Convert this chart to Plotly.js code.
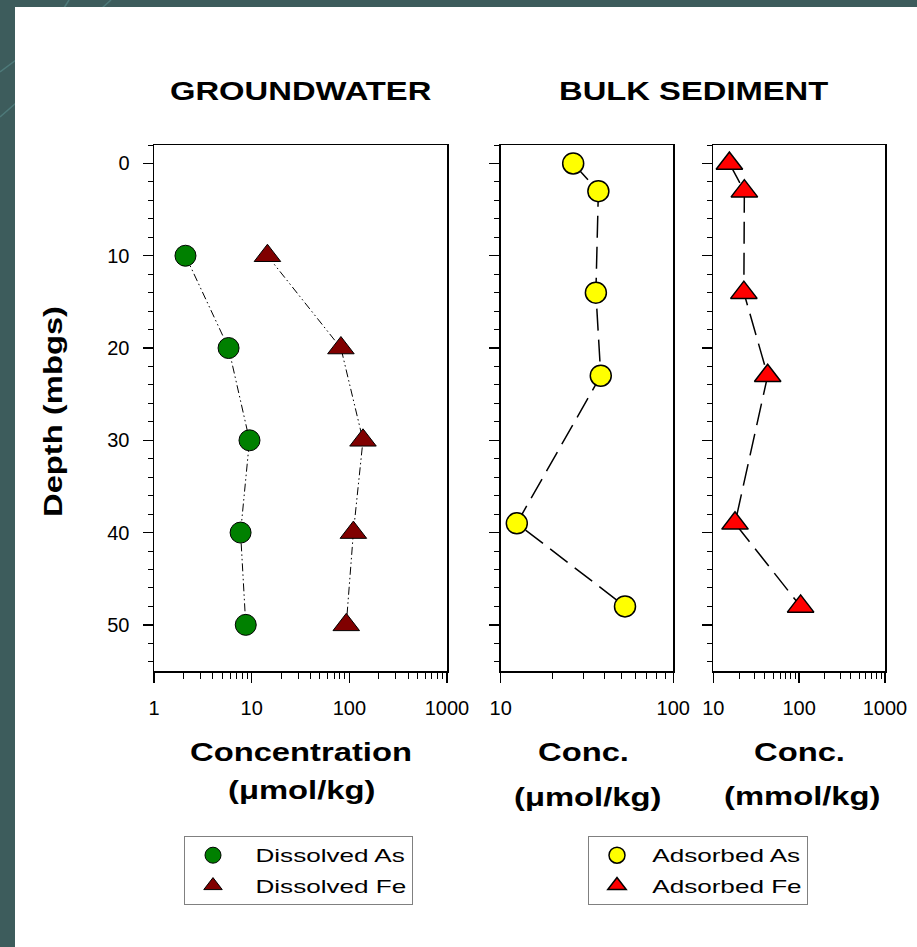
<!DOCTYPE html>
<html>
<head>
<meta charset="utf-8">
<script src="https://cdn.plot.ly/plotly-3.0.1.min.js"></script>
<style>
  html, body { margin: 0; padding: 0; background: #3d5c5c; }
  #chart { width: 917px; height: 947px; }
  /* slide text is set wide */
  .annotation-text { transform-box: fill-box; transform-origin: center; transform: scaleX(1.26); }
  .legendtext, .legend2text { transform-box: fill-box; transform-origin: left center; transform: scaleX(1.45); }
</style>
</head>
<body>
<div id="chart"></div>
<script>
// Groundwater profile (depth in m below ground surface)
const depthGW = [10, 20, 30, 40, 50];
const dissolvedAs = [2.1, 5.8, 9.5, 7.7, 8.7];      // µmol/kg
const dissolvedFe = [14.5, 82, 138, 110, 93];       // µmol/kg

// Bulk sediment profile
const depthSed = [0, 3, 14, 23, 39, 48];
const adsorbedAs = [26.3, 36.8, 35.6, 38, 12.4, 52.5]; // µmol/kg
const adsorbedFe = [15.4, 23, 22.7, 43, 17.9, 104];    // mmol/kg

const depthTicks = [0, 10, 20, 30, 40, 50];
const gwTicks = [1, 10, 100, 1000];
const asTicks = [10, 100];
const feTicks = [10, 100, 1000];

const W = 917, H = 947;
const px = v => v / W;
const py = v => 1 - v / H;

const FONT = 'Liberation Sans, Arial, Helvetica, sans-serif';
const dashDotDot = '8px,3px,1.5px,3px,1.5px,3px';
const longDash = '22px,9px';
const SP = '\u00a0';

// connecting lines (drawn first, kept out of the legends)
function profileLine(x, y, xa, ya, width, dash) {
  return {
    x: x, y: y, xaxis: xa, yaxis: ya, mode: 'lines', showlegend: false,
    hoverinfo: 'skip', line: { color: 'black', width: width, dash: dash }
  };
}
// symbols on top of the lines
function profileMarkers(x, y, xa, ya, name, legend, group, symbol, size, color, lw) {
  return {
    x: x, y: y, xaxis: xa, yaxis: ya, mode: 'markers',
    name: name, legend: legend, legendgroup: group,
    marker: { symbol: symbol, size: size, color: color, line: { color: 'black', width: lw } }
  };
}

const traces = [
  profileLine(dissolvedAs, depthGW, 'x', 'y', 1, dashDotDot),
  profileLine(dissolvedFe, depthGW, 'x', 'y', 1, dashDotDot),
  profileLine(adsorbedAs, depthSed, 'x2', 'y2', 1.5, longDash),
  profileLine(adsorbedFe, depthSed, 'x3', 'y3', 1.5, longDash),
  profileMarkers(dissolvedAs, depthGW, 'x', 'y', SP + SP + 'Dissolved As', 'legend', 'a', 'circle', 21, '#008000', 1),
  profileMarkers(dissolvedFe, depthGW, 'x', 'y', SP + SP + 'Dissolved Fe', 'legend', 'b', 'triangle-up', 23, '#800000', 1),
  profileMarkers(adsorbedAs, depthSed, 'x2', 'y2', SP + 'Adsorbed As', 'legend2', 'c', 'circle', 21, '#ffff00', 1.5),
  profileMarkers(adsorbedFe, depthSed, 'x3', 'y3', SP + 'Adsorbed Fe', 'legend2', 'd', 'triangle-up', 23, '#ff0000', 1.5)
];

function xAxis(anchor, domain, range, vals) {
  return {
    anchor: anchor, type: 'log', domain: domain, range: range,
    tickmode: 'array', tickvals: vals, ticktext: vals.map(String),
    ticks: 'outside', ticklen: 10, tickwidth: 1.5, tickcolor: 'black',
    minor: { ticks: 'outside', ticklen: 6, tickwidth: 1, tickcolor: 'black', dtick: 'D1', showgrid: false },
    showline: true, linecolor: 'black', linewidth: 1.5, mirror: true,
    showgrid: false, zeroline: false,
    tickfont: { family: FONT, size: 20, color: 'black' },
    ticklabelstandoff: 8,
    fixedrange: true
  };
}
function yAxis(anchor, labels) {
  return {
    anchor: anchor, domain: [py(671), py(145)], range: [55, -2],
    tickmode: 'array', tickvals: depthTicks,
    ticks: 'outside', ticklen: 10, tickwidth: 1.5, tickcolor: 'black',
    minor: { ticks: 'outside', ticklen: 5, tickwidth: 1, tickcolor: 'black', dtick: 2, tick0: 0, showgrid: false },
    showline: true, linecolor: 'black', linewidth: 1.5, mirror: true,
    showgrid: false, zeroline: false, showticklabels: labels,
    tickfont: { family: FONT, size: 20, color: 'black' },
    ticklabelstandoff: 9,
    fixedrange: true
  };
}

function label(text, x, y, angle) {
  return {
    xref: 'paper', yref: 'paper', x: px(x), y: py(y),
    xanchor: 'center', yanchor: 'middle', showarrow: false,
    text: text, textangle: angle || 0,
    font: { family: FONT, size: 26, color: 'black', weight: 'bold' }
  };
}

function legendBox(x, y) {
  return {
    x: px(x), y: py(y), xanchor: 'left', yanchor: 'top',
    bgcolor: 'white', bordercolor: '#808080', borderwidth: 1,
    font: { family: FONT, size: 18, color: 'black' },
    itemwidth: 46, tracegroupgap: 4, traceorder: 'grouped'
  };
}

// faint strokes of the slide background in the dark frame
function frameStroke(x0, y0, x1, y1) {
  return { type: 'line', xref: 'paper', yref: 'paper', layer: 'below',
    x0: px(x0), y0: py(y0), x1: px(x1), y1: py(y1),
    line: { color: '#4e7a7a', width: 1.5 } };
}

const layout = {
  width: W, height: H,
  margin: { l: 0, r: 0, t: 0, b: 0 },
  paper_bgcolor: '#3d5c5c', plot_bgcolor: 'white',
  font: { family: FONT, size: 18, color: 'black' },
  showlegend: true,
  xaxis: xAxis('y', [px(154), px(447)], [0, 3], gwTicks),
  xaxis2: xAxis('y2', [px(500.7), px(673.3)], [1, 2], asTicks),
  xaxis3: xAxis('y3', [px(713.3), px(885)], [1, 3], feTicks),
  yaxis: yAxis('x', true), yaxis2: yAxis('x2', false), yaxis3: yAxis('x3', false),
  legend: legendBox(184, 836),
  legend2: legendBox(588, 836),
  shapes: [
    frameStroke(69, 0, 64, 8),
    frameStroke(111, 0, 102, 8),
    frameStroke(0, 72, 16, 60),
    frameStroke(0, 117, 16, 103),
    { type: 'rect', xref: 'paper', yref: 'paper', layer: 'below',
      x0: px(15), x1: 1.01, y0: -0.01, y1: py(7),
      fillcolor: 'white', line: { width: 0 } }
  ],
  annotations: [
    label('GROUNDWATER', 300.5, 90),
    label('BULK SEDIMENT', 693, 90),
    label('Depth (mbgs)', 53, 412, -90),
    label('Concentration', 301, 751),
    label('(μmol/kg)', 301, 789),
    label('Conc.', 583, 751),
    label('(μmol/kg)', 587, 796),
    label('Conc.', 799, 751),
    label('(mmol/kg)', 802, 795)
  ]
};

Plotly.newPlot('chart', traces, layout, { displayModeBar: false, staticPlot: true });
</script>
</body>
</html>
